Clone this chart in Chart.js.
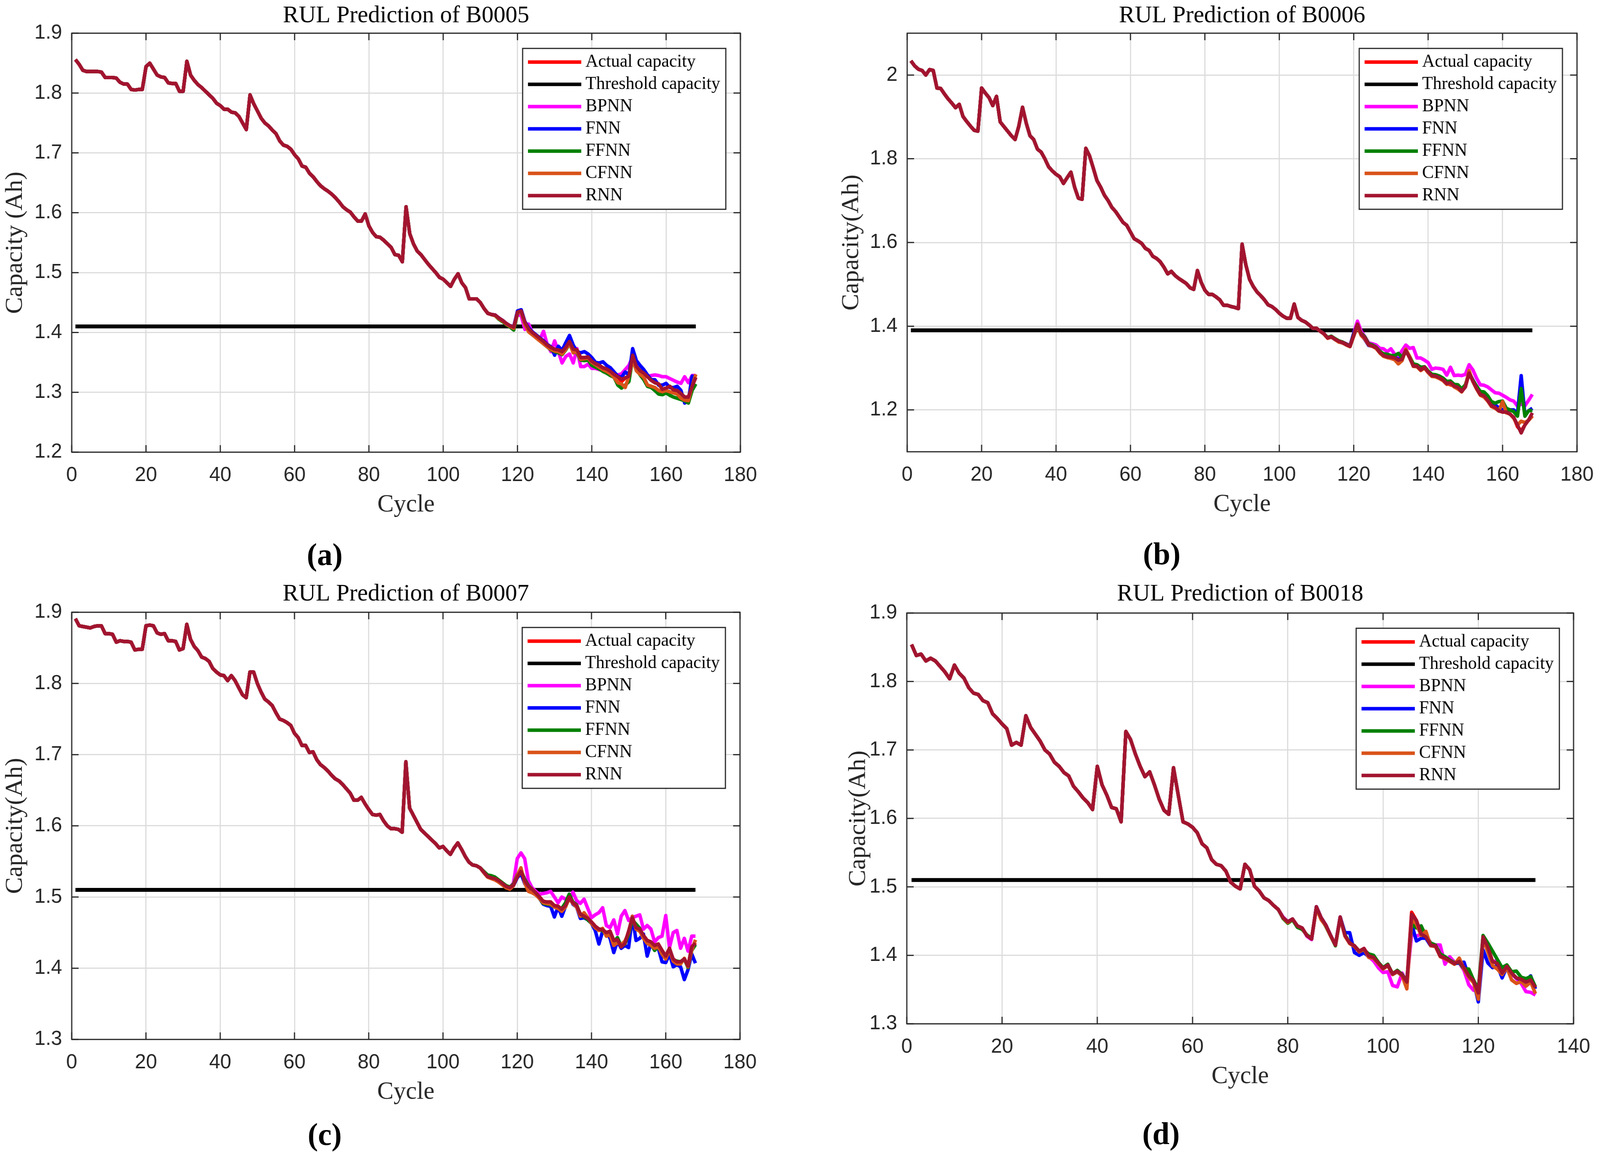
<!DOCTYPE html>
<html>
<head>
<meta charset="utf-8">
<script src="https://cdn.jsdelivr.net/npm/chart.js@4.4.1/dist/chart.umd.min.js"></script>
<style>
html,body{margin:0;padding:0;background:#fff;overflow:hidden;}
#page{width:4173px;height:2958px;position:absolute;left:0;top:0;transform-origin:0 0;background:#fff;}
canvas{position:absolute;}
.lab{position:absolute;font-family:'Liberation Serif','Times New Roman',serif;font-weight:bold;font-size:80px;color:#000;line-height:1;transform:translate(-50%,-50%);white-space:nowrap;}
</style>
</head>
<body>
<div id="page">
<canvas id="ca" width="2086" height="1479" style="left:0px;top:0px;width:2086px;height:1479px"></canvas>
<canvas id="cb" width="2087" height="1479" style="left:2086px;top:0px;width:2087px;height:1479px"></canvas>
<canvas id="cc" width="2086" height="1479" style="left:0px;top:1479px;width:2086px;height:1479px"></canvas>
<canvas id="cd" width="2087" height="1479" style="left:2086px;top:1479px;width:2087px;height:1479px"></canvas>
<div class="lab" style="left:847px;top:1420px">(a)</div>
<div class="lab" style="left:3030px;top:1418px">(b)</div>
<div class="lab" style="left:847px;top:2905px">(c)</div>
<div class="lab" style="left:3028px;top:2903px">(d)</div>
</div>
<script>
// ---------------- DATA ----------------
const seriesNames = ['Actual capacity','Threshold capacity','BPNN','FNN','FFNN','CFNN','RNN'];
const xTicks180 = [0,20,40,60,80,100,120,140,160,180];
const xTicks140 = [0,20,40,60,80,100,120,140];
const yTicksA = [1.2,1.3,1.4,1.5,1.6,1.7,1.8,1.9];
const yLabelsA = ['1.2','1.3','1.4','1.5','1.6','1.7','1.8','1.9'];
const yTicksB = [1.2,1.4,1.6,1.8,2.0];
const yLabelsB = ['1.2','1.4','1.6','1.8','2'];
const yTicksC = [1.3,1.4,1.5,1.6,1.7,1.8,1.9];
const yLabelsC = ['1.3','1.4','1.5','1.6','1.7','1.8','1.9'];
const yTicksD = [1.3,1.4,1.5,1.6,1.7,1.8,1.9];
const yLabelsD = ['1.3','1.4','1.5','1.6','1.7','1.8','1.9'];

const cyclesA = Array.from({length:168},(_,i)=>i+1);
const cyclesB = Array.from({length:168},(_,i)=>i+1);
const cyclesC = Array.from({length:168},(_,i)=>i+1);
const cyclesD = Array.from({length:132},(_,i)=>i+1);

const thresholdA = [1.41,1.41];
const thresholdB = [1.39,1.39];
const thresholdC = [1.51,1.51];
const thresholdD = [1.51,1.51];

// B0005 actual capacity (cycles 1-168)
const actualA = [
1.856,1.848,1.838,1.836,1.836,1.836,1.836,1.835,1.826,1.826,
1.826,1.825,1.818,1.815,1.815,1.806,1.805,1.806,1.806,1.844,
1.850,1.840,1.830,1.827,1.826,1.817,1.816,1.816,1.803,1.803,
1.853,1.830,1.821,1.814,1.809,1.803,1.797,1.791,1.783,1.779,
1.773,1.773,1.768,1.767,1.761,1.750,1.739,1.797,1.782,1.770,
1.758,1.750,1.745,1.738,1.732,1.720,1.713,1.711,1.706,1.697,
1.690,1.678,1.676,1.666,1.660,1.652,1.645,1.640,1.636,1.631,
1.625,1.618,1.610,1.605,1.601,1.593,1.586,1.586,1.598,1.578,
1.567,1.560,1.559,1.554,1.548,1.542,1.530,1.529,1.518,1.610,
1.565,1.548,1.536,1.530,1.522,1.514,1.507,1.500,1.492,1.489,
1.483,1.477,1.489,1.498,1.483,1.475,1.456,1.456,1.456,1.450,
1.440,1.432,1.430,1.429,1.424,1.420,1.415,1.411,1.409,1.434,
1.436,1.417,1.406,1.400,1.395,1.390,1.385,1.379,1.375,1.372,
1.371,1.368,1.375,1.385,1.372,1.371,1.358,1.358,1.359,1.352,
1.348,1.345,1.341,1.339,1.335,1.330,1.326,1.318,1.324,1.327,
1.362,1.343,1.336,1.332,1.326,1.320,1.316,1.314,1.305,1.307,
1.310,1.304,1.303,1.298,1.292,1.292,1.310,1.325];
// model predictions, cycles 111-168 (earlier cycles coincide with actual)
const bpnnA = [
1.440,1.432,1.430,1.429,1.424,1.420,1.415,1.411,1.409,1.430,
1.428,1.405,1.414,1.400,1.392,1.388,1.402,1.380,1.368,1.386,
1.368,1.349,1.360,1.364,1.349,1.373,1.343,1.343,1.347,1.340,
1.340,1.338,1.337,1.336,1.333,1.330,1.329,1.331,1.338,1.345,
1.360,1.343,1.336,1.329,1.326,1.328,1.329,1.328,1.326,1.326,
1.323,1.320,1.317,1.315,1.326,1.316,1.328,1.328];
const fnnA = [
1.440,1.432,1.430,1.429,1.424,1.420,1.415,1.411,1.410,1.436,
1.438,1.418,1.408,1.401,1.396,1.391,1.386,1.380,1.376,1.362,
1.377,1.370,1.383,1.395,1.379,1.368,1.366,1.368,1.364,1.358,
1.350,1.349,1.351,1.345,1.341,1.334,1.327,1.325,1.334,1.329,
1.373,1.353,1.345,1.338,1.329,1.321,1.321,1.312,1.312,1.315,
1.308,1.308,1.310,1.303,1.282,1.286,1.327,1.325];
const ffnnA = [
1.440,1.432,1.430,1.428,1.422,1.418,1.413,1.409,1.404,1.432,
1.435,1.415,1.404,1.398,1.392,1.387,1.381,1.376,1.371,1.368,
1.366,1.363,1.371,1.381,1.368,1.366,1.354,1.353,1.354,1.345,
1.342,1.339,1.335,1.332,1.328,1.325,1.312,1.307,1.312,1.318,
1.357,1.340,1.329,1.321,1.310,1.308,1.303,1.297,1.296,1.299,
1.295,1.292,1.290,1.288,1.286,1.282,1.303,1.314];
const cfnnA = [
1.440,1.432,1.430,1.428,1.423,1.419,1.414,1.410,1.407,1.433,
1.434,1.413,1.401,1.396,1.391,1.386,1.381,1.376,1.372,1.369,
1.368,1.364,1.372,1.382,1.366,1.368,1.355,1.356,1.357,1.350,
1.346,1.342,1.338,1.335,1.331,1.325,1.316,1.314,1.308,1.327,
1.355,1.336,1.330,1.325,1.312,1.310,1.308,1.303,1.301,1.303,
1.301,1.299,1.297,1.290,1.287,1.286,1.310,1.330];
const rnnA = [
1.440,1.432,1.430,1.429,1.424,1.420,1.415,1.411,1.409,1.434,
1.436,1.417,1.406,1.400,1.395,1.390,1.385,1.379,1.375,1.372,
1.371,1.368,1.375,1.385,1.372,1.371,1.358,1.358,1.359,1.352,
1.348,1.345,1.341,1.339,1.335,1.330,1.326,1.322,1.324,1.327,
1.362,1.343,1.336,1.332,1.326,1.320,1.316,1.314,1.305,1.307,
1.310,1.304,1.303,1.298,1.292,1.292,1.310,1.325];

// B0006 actual capacity (cycles 1-168)
const actualB = [
2.034,2.022,2.014,2.011,2.000,2.013,2.011,1.969,1.968,1.955,
1.943,1.933,1.922,1.930,1.901,1.889,1.878,1.868,1.866,1.969,
1.957,1.946,1.927,1.949,1.888,1.877,1.866,1.855,1.846,1.878,
1.923,1.885,1.855,1.846,1.823,1.816,1.800,1.781,1.771,1.763,
1.757,1.741,1.755,1.768,1.732,1.706,1.703,1.825,1.807,1.778,
1.748,1.732,1.713,1.700,1.684,1.674,1.661,1.648,1.641,1.625,
1.609,1.604,1.598,1.586,1.581,1.567,1.562,1.554,1.541,1.525,
1.531,1.521,1.514,1.508,1.502,1.492,1.488,1.533,1.505,1.486,
1.476,1.476,1.470,1.463,1.450,1.450,1.447,1.445,1.442,1.596,
1.547,1.512,1.495,1.482,1.473,1.463,1.451,1.447,1.440,1.431,
1.424,1.419,1.419,1.453,1.421,1.414,1.410,1.403,1.395,1.395,
1.388,1.382,1.372,1.375,1.369,1.364,1.361,1.356,1.352,1.378,
1.405,1.381,1.372,1.356,1.353,1.349,1.338,1.330,1.327,1.326,
1.324,1.319,1.321,1.342,1.325,1.305,1.305,1.296,1.302,1.291,
1.282,1.281,1.277,1.272,1.263,1.260,1.257,1.254,1.244,1.255,
1.288,1.269,1.252,1.237,1.234,1.223,1.210,1.206,1.198,1.195,
1.195,1.190,1.182,1.160,1.150,1.164,1.176,1.186];
const bpnnB = [
1.388,1.382,1.372,1.375,1.369,1.364,1.362,1.358,1.354,1.384,
1.412,1.388,1.375,1.360,1.358,1.355,1.347,1.346,1.339,1.346,
1.333,1.328,1.342,1.355,1.347,1.349,1.324,1.324,1.319,1.313,
1.297,1.300,1.299,1.297,1.283,1.302,1.282,1.283,1.282,1.285,
1.308,1.296,1.276,1.260,1.259,1.255,1.248,1.241,1.240,1.235,
1.230,1.224,1.221,1.209,1.214,1.210,1.223,1.237];
const fnnB = [
1.388,1.382,1.372,1.374,1.368,1.363,1.360,1.356,1.352,1.383,
1.403,1.379,1.368,1.354,1.352,1.348,1.338,1.331,1.328,1.327,
1.325,1.321,1.323,1.342,1.327,1.307,1.306,1.298,1.303,1.292,
1.283,1.283,1.279,1.274,1.266,1.268,1.260,1.258,1.250,1.258,
1.290,1.272,1.256,1.242,1.238,1.230,1.219,1.212,1.205,1.200,
1.200,1.200,1.200,1.192,1.282,1.188,1.198,1.204];
const ffnnB = [
1.388,1.382,1.373,1.376,1.370,1.365,1.362,1.357,1.353,1.380,
1.402,1.383,1.374,1.358,1.355,1.350,1.340,1.334,1.333,1.330,
1.330,1.335,1.325,1.343,1.328,1.310,1.308,1.302,1.303,1.293,
1.285,1.284,1.281,1.276,1.268,1.269,1.261,1.260,1.250,1.260,
1.287,1.271,1.257,1.244,1.243,1.234,1.220,1.216,1.220,1.221,
1.204,1.200,1.196,1.185,1.251,1.185,1.198,1.199];
const cfnnB = [
1.388,1.381,1.371,1.374,1.368,1.362,1.360,1.355,1.351,1.376,
1.400,1.378,1.369,1.355,1.352,1.347,1.336,1.328,1.325,1.323,
1.320,1.310,1.318,1.345,1.328,1.304,1.303,1.294,1.300,1.289,
1.280,1.279,1.275,1.270,1.261,1.263,1.255,1.250,1.243,1.256,
1.294,1.268,1.250,1.235,1.231,1.221,1.208,1.204,1.197,1.220,
1.193,1.190,1.180,1.164,1.173,1.170,1.175,1.185];
const rnnB = [
1.388,1.382,1.372,1.375,1.369,1.364,1.361,1.356,1.352,1.378,
1.405,1.381,1.372,1.356,1.353,1.349,1.338,1.330,1.327,1.326,
1.324,1.319,1.321,1.342,1.325,1.305,1.305,1.296,1.302,1.291,
1.282,1.281,1.277,1.272,1.263,1.265,1.257,1.254,1.244,1.255,
1.288,1.269,1.252,1.237,1.234,1.223,1.210,1.206,1.198,1.195,
1.195,1.190,1.182,1.164,1.145,1.164,1.176,1.193];

// B0007 actual capacity (cycles 1-168)
const actualC = [
1.891,1.881,1.880,1.879,1.878,1.880,1.881,1.881,1.870,1.870,
1.869,1.858,1.860,1.859,1.859,1.858,1.847,1.848,1.848,1.881,
1.882,1.881,1.871,1.869,1.870,1.860,1.860,1.859,1.847,1.849,
1.883,1.862,1.852,1.846,1.837,1.835,1.831,1.821,1.816,1.812,
1.811,1.804,1.811,1.804,1.794,1.784,1.780,1.816,1.816,1.800,
1.788,1.778,1.774,1.769,1.759,1.750,1.748,1.745,1.741,1.730,
1.724,1.713,1.713,1.703,1.704,1.693,1.686,1.682,1.677,1.671,
1.666,1.663,1.658,1.652,1.646,1.636,1.636,1.640,1.631,1.623,
1.616,1.615,1.616,1.607,1.600,1.596,1.596,1.595,1.591,1.690,
1.625,1.615,1.605,1.595,1.590,1.585,1.580,1.575,1.569,1.571,
1.565,1.560,1.569,1.576,1.567,1.557,1.549,1.545,1.544,1.541,
1.535,1.529,1.527,1.526,1.523,1.519,1.515,1.513,1.517,1.528,
1.536,1.523,1.515,1.511,1.506,1.500,1.494,1.493,1.493,1.488,
1.487,1.483,1.488,1.500,1.492,1.488,1.476,1.473,1.470,1.465,
1.459,1.455,1.454,1.450,1.452,1.439,1.440,1.430,1.435,1.452,
1.471,1.457,1.455,1.446,1.439,1.437,1.432,1.434,1.425,1.417,
1.428,1.411,1.409,1.409,1.413,1.403,1.430,1.436];
const bpnnC = [
1.535,1.529,1.527,1.526,1.523,1.519,1.515,1.513,1.520,1.554,
1.562,1.554,1.523,1.513,1.508,1.504,1.505,1.506,1.508,1.500,
1.492,1.500,1.497,1.495,1.507,1.495,1.491,1.497,1.484,1.471,
1.475,1.478,1.485,1.460,1.457,1.468,1.448,1.473,1.481,1.467,
1.471,1.473,1.475,1.455,1.460,1.455,1.437,1.443,1.445,1.474,
1.429,1.450,1.453,1.428,1.442,1.424,1.445,1.445];
const fnnC = [
1.535,1.529,1.527,1.526,1.523,1.519,1.515,1.512,1.516,1.527,
1.533,1.519,1.512,1.509,1.504,1.498,1.490,1.488,1.487,1.472,
1.486,1.473,1.487,1.501,1.490,1.486,1.470,1.471,1.468,1.463,
1.453,1.434,1.452,1.450,1.442,1.422,1.438,1.428,1.432,1.429,
1.473,1.439,1.442,1.448,1.417,1.435,1.430,1.428,1.409,1.408,
1.420,1.402,1.405,1.402,1.384,1.398,1.420,1.407];
const ffnnC = [
1.536,1.531,1.530,1.528,1.524,1.520,1.516,1.514,1.518,1.531,
1.538,1.525,1.516,1.511,1.505,1.498,1.491,1.490,1.489,1.486,
1.485,1.484,1.492,1.504,1.493,1.489,1.475,1.472,1.468,1.463,
1.457,1.454,1.453,1.447,1.448,1.437,1.443,1.431,1.434,1.448,
1.468,1.462,1.456,1.442,1.435,1.434,1.425,1.431,1.420,1.414,
1.425,1.412,1.410,1.409,1.413,1.401,1.425,1.433];
const cfnnC = [
1.534,1.528,1.526,1.524,1.521,1.517,1.513,1.511,1.516,1.530,
1.541,1.520,1.508,1.506,1.503,1.498,1.492,1.491,1.490,1.486,
1.484,1.480,1.486,1.498,1.491,1.486,1.473,1.478,1.471,1.463,
1.457,1.453,1.456,1.445,1.447,1.432,1.436,1.433,1.438,1.450,
1.473,1.455,1.452,1.442,1.435,1.432,1.428,1.430,1.420,1.413,
1.426,1.410,1.406,1.406,1.414,1.402,1.425,1.440];
const rnnC = [
1.535,1.529,1.527,1.526,1.523,1.519,1.515,1.513,1.517,1.528,
1.536,1.523,1.515,1.511,1.506,1.500,1.494,1.493,1.493,1.488,
1.487,1.483,1.488,1.500,1.492,1.488,1.476,1.473,1.470,1.465,
1.459,1.455,1.454,1.450,1.452,1.439,1.440,1.430,1.435,1.452,
1.471,1.457,1.455,1.446,1.439,1.437,1.432,1.434,1.425,1.417,
1.428,1.413,1.409,1.409,1.413,1.403,1.430,1.435];

// B0018 actual capacity (cycles 1-132)
const actualD = [
1.854,1.838,1.840,1.830,1.834,1.830,1.822,1.814,1.804,1.824,
1.812,1.805,1.791,1.783,1.781,1.772,1.769,1.753,1.746,1.738,
1.731,1.707,1.711,1.707,1.750,1.733,1.723,1.713,1.700,1.694,
1.682,1.676,1.667,1.662,1.647,1.639,1.630,1.623,1.613,1.676,
1.649,1.634,1.616,1.614,1.595,1.727,1.715,1.694,1.676,1.661,
1.668,1.649,1.628,1.612,1.606,1.674,1.634,1.595,1.592,1.587,
1.579,1.563,1.557,1.540,1.533,1.531,1.523,1.507,1.501,1.497,
1.533,1.525,1.501,1.494,1.484,1.480,1.473,1.467,1.455,1.449,
1.453,1.443,1.440,1.429,1.424,1.471,1.455,1.444,1.429,1.415,
1.456,1.429,1.418,1.414,1.406,1.410,1.399,1.397,1.389,1.381,
1.386,1.373,1.377,1.371,1.361,1.463,1.451,1.431,1.427,1.415,
1.414,1.399,1.396,1.392,1.388,1.391,1.382,1.370,1.363,1.345,
1.427,1.412,1.391,1.388,1.374,1.384,1.374,1.367,1.365,1.361,
1.364,1.353];
// model predictions, cycles 79-132
const bpnnD = [
1.456,1.449,1.453,1.443,1.440,1.428,1.423,1.471,1.455,1.444,1.429,1.415,
1.456,1.429,1.418,1.413,1.405,1.410,1.398,1.392,1.382,1.375,
1.376,1.356,1.354,1.374,1.361,1.431,1.428,1.431,1.430,1.418,
1.415,1.415,1.387,1.398,1.390,1.389,1.378,1.357,1.349,1.350,
1.420,1.410,1.390,1.393,1.373,1.383,1.373,1.366,1.359,1.347,
1.346,1.342];
const fnnD = [
1.455,1.449,1.453,1.443,1.440,1.429,1.424,1.471,1.455,1.444,1.429,1.415,
1.456,1.433,1.433,1.404,1.400,1.404,1.398,1.397,1.389,1.381,
1.386,1.372,1.376,1.370,1.360,1.446,1.421,1.425,1.425,1.414,
1.413,1.399,1.395,1.392,1.388,1.389,1.390,1.369,1.362,1.332,
1.408,1.389,1.382,1.385,1.367,1.383,1.374,1.367,1.364,1.363,
1.370,1.351];
const ffnnD = [
1.454,1.447,1.452,1.441,1.438,1.430,1.425,1.470,1.454,1.442,1.428,1.414,
1.455,1.430,1.418,1.414,1.406,1.408,1.402,1.400,1.390,1.382,
1.387,1.373,1.378,1.372,1.362,1.446,1.440,1.443,1.428,1.418,
1.415,1.402,1.398,1.393,1.389,1.390,1.380,1.380,1.364,1.350,
1.429,1.418,1.406,1.394,1.382,1.386,1.376,1.377,1.368,1.366,
1.369,1.354];
const cfnnD = [
1.455,1.448,1.453,1.443,1.440,1.429,1.424,1.469,1.452,1.443,1.428,1.415,
1.454,1.428,1.417,1.413,1.405,1.409,1.397,1.396,1.388,1.380,
1.385,1.372,1.376,1.370,1.351,1.452,1.446,1.429,1.435,1.414,
1.413,1.398,1.395,1.391,1.387,1.396,1.380,1.368,1.360,1.336,
1.425,1.405,1.385,1.380,1.372,1.382,1.364,1.359,1.362,1.355,
1.361,1.344];
const rnnD = [
1.455,1.449,1.453,1.443,1.440,1.429,1.424,1.471,1.455,1.444,1.429,1.415,
1.456,1.429,1.418,1.414,1.406,1.410,1.399,1.397,1.389,1.381,
1.386,1.373,1.377,1.371,1.361,1.460,1.451,1.431,1.427,1.415,
1.414,1.399,1.396,1.392,1.388,1.391,1.382,1.370,1.363,1.345,
1.427,1.412,1.391,1.388,1.374,1.384,1.374,1.367,1.365,1.361,
1.364,1.353];

// ---------------- RENDERING ----------------
const SERIF = "'Liberation Serif', 'Times New Roman', serif";
const SANS = "'Liberation Sans', Arial, sans-serif";
const COLORS = ['#ff0000','#000000','#ff00ff','#0000ff','#008000','#d95319','#a2142f'];
const AXIS = '#262626';

// fit the 4173x2958 design into the real viewport
(function fitPage(){
  const vw = document.documentElement.clientWidth || window.innerWidth;
  const vh = document.documentElement.clientHeight || window.innerHeight;
  document.getElementById('page').style.transform = 'scale(' + (vw / 4173) + ',' + (vh / 2958) + ')';
})();

const framePlugin = {
  id: 'matlabFrame',
  afterDraw(chart, args, o) {
    const {ctx, chartArea: ca, scales} = chart;
    ctx.save();
    ctx.strokeStyle = AXIS;
    ctx.lineWidth = 3;
    ctx.beginPath();
    scales.x.ticks.forEach(t => {
      const px = scales.x.getPixelForValue(t.value);
      ctx.moveTo(px, ca.bottom); ctx.lineTo(px, ca.bottom - 18);
      ctx.moveTo(px, ca.top); ctx.lineTo(px, ca.top + 18);
    });
    scales.y.ticks.forEach(t => {
      const py = scales.y.getPixelForValue(t.value);
      ctx.moveTo(ca.left, py); ctx.lineTo(ca.left + 18, py);
      ctx.moveTo(ca.right, py); ctx.lineTo(ca.right - 18, py);
    });
    ctx.stroke();
    ctx.strokeRect(ca.left, ca.top, ca.right - ca.left, ca.bottom - ca.top);
    const lx = ca.right - o.right - o.w, ly = ca.top + o.top;
    ctx.fillStyle = '#ffffff';
    ctx.fillRect(lx, ly, o.w, o.h);
    ctx.strokeRect(lx, ly, o.w, o.h);
    ctx.font = '46px ' + SERIF;
    ctx.textBaseline = 'middle';
    ctx.textAlign = 'left';
    chart.data.datasets.forEach((ds, i) => {
      const cy = ly + o.first + i * o.pitch;
      ctx.strokeStyle = ds.borderColor;
      ctx.lineWidth = 9;
      ctx.lineCap = 'butt';
      ctx.beginPath(); ctx.moveTo(lx + 14, cy); ctx.lineTo(lx + 153, cy); ctx.stroke();
      ctx.fillStyle = '#000';
      ctx.fillText(ds.label, lx + 164, cy);
    });
    ctx.restore();
  }
};

function makeChart(id, cfg, g) {
  const n = cfg.actual.length;
  const withTail = tail => cfg.actual.slice(0, n - tail.length).concat(tail);
  const xy = vals => vals.map((v, i) => ({x: cfg.cycles[i], y: v}));
  const thr = [{x: cfg.cycles[0], y: cfg.threshold[0]}, {x: cfg.cycles[n - 1], y: cfg.threshold[1]}];
  const mk = (idx, data, order, w) => ({
    label: seriesNames[idx], data, borderColor: COLORS[idx], backgroundColor: COLORS[idx],
    borderWidth: w, pointRadius: 0, pointHoverRadius: 0, fill: false, tension: 0,
    order, borderJoinStyle: 'round', borderCapStyle: 'butt'
  });
  const datasets = [
    mk(0, xy(cfg.actual), 7, 9),
    mk(1, thr, 6, 10),
    mk(2, xy(withTail(cfg.bpnn)), 5, 9),
    mk(3, xy(withTail(cfg.fnn)), 4, 9),
    mk(4, xy(withTail(cfg.ffnn)), 3, 9),
    mk(5, xy(withTail(cfg.cfnn)), 2, 9),
    mk(6, xy(withTail(cfg.rnn)), 1, 9)
  ];
  new Chart(document.getElementById(id), {
    type: 'line',
    data: {datasets},
    options: {
      responsive: false, animation: false, devicePixelRatio: 1,
      events: [],
      layout: {padding: {left: 0, right: g.padRight, top: 0, bottom: g.padBottom}},
      plugins: {
        legend: {display: false},
        tooltip: {enabled: false},
        title: {display: true, text: cfg.title, color: '#000', fullSize: false,
          font: {family: SERIF, size: 62, weight: 'normal', lineHeight: 1},
          padding: {top: g.tTop, bottom: g.tBottom}},
        matlabFrame: {w: 530, h: 412, right: g.legRight, top: 39, first: 35, pitch: 57}
      },
      scales: {
        x: {
          type: 'linear', min: 0, max: cfg.xMax,
          afterBuildTicks: s => { s.ticks = cfg.xTicks.map(v => ({value: v})); },
          afterFit: s => { s.height = g.xAxisH; s.paddingLeft = 0; s.paddingRight = 0; },
          ticks: {autoSkip: false, maxRotation: 0, minRotation: 0, padding: 28.3, color: AXIS,
            font: {family: SANS, size: 52}, callback: (v, i) => String(cfg.xTicks[i])},
          grid: {color: '#dcdcdc', lineWidth: 3, drawTicks: false},
          border: {display: false},
          title: {display: true, text: 'Cycle', color: AXIS, font: {family: SERIF, size: 64},
            padding: {top: 0, bottom: 0}}
        },
        y: {
          type: 'linear', min: cfg.yMin, max: cfg.yMax,
          afterBuildTicks: s => { s.ticks = cfg.yTicks.map(v => ({value: v})); },
          afterFit: s => { s.width = g.yAxisW; s.paddingTop = 0; s.paddingBottom = 0; },
          ticks: {autoSkip: false, padding: 25, color: AXIS,
            font: {family: SANS, size: 52}, callback: (v, i) => cfg.yLabels[i]},
          grid: {color: '#dcdcdc', lineWidth: 3, drawTicks: false},
          border: {display: false},
          title: {display: true, text: cfg.ylabel, color: AXIS, font: {family: SERIF, size: 64},
            padding: {top: g.yTitlePad, bottom: 0}}
        }
      }
    },
    plugins: [framePlugin]
  });
}

makeChart('ca', {title: 'RUL Prediction of B0005', ylabel: 'Capacity (Ah)', cycles: cyclesA,
  actual: actualA, threshold: thresholdA, bpnn: bpnnA, fnn: fnnA, ffnn: ffnnA, cfnn: cfnnA, rnn: rnnA,
  xMax: 180, xTicks: xTicks180, yMin: 1.2, yMax: 1.9, yTicks: yTicksA, yLabels: yLabelsA},
  {yAxisW: 187, padRight: 155, padBottom: 147, xAxisH: 174, tTop: 10, tBottom: 13, yTitlePad: 1.6, legRight: 38});

makeChart('cb', {title: 'RUL Prediction of B0006', ylabel: 'Capacity(Ah)', cycles: cyclesB,
  actual: actualB, threshold: thresholdB, bpnn: bpnnB, fnn: fnnB, ffnn: ffnnB, cfnn: cfnnB, rnn: rnnB,
  xMax: 180, xTicks: xTicks180, yMin: 1.1, yMax: 2.1, yTicks: yTicksB, yLabels: yLabelsB},
  {yAxisW: 280, padRight: 60, padBottom: 148, xAxisH: 174, tTop: 10, tBottom: 13, yTitlePad: 96.6, legRight: 38});

makeChart('cc', {title: 'RUL Prediction of B0007', ylabel: 'Capacity(Ah)', cycles: cyclesC,
  actual: actualC, threshold: thresholdC, bpnn: bpnnC, fnn: fnnC, ffnn: ffnnC, cfnn: cfnnC, rnn: rnnC,
  xMax: 180, xTicks: xTicks180, yMin: 1.3, yMax: 1.9, yTicks: yTicksC, yLabels: yLabelsC},
  {yAxisW: 187, padRight: 156, padBottom: 122, xAxisH: 174, tTop: 12, tBottom: 15, yTitlePad: 1.6, legRight: 38});

makeChart('cd', {title: 'RUL Prediction of B0018', ylabel: 'Capacity(Ah)', cycles: cyclesD,
  actual: actualD, threshold: thresholdD, bpnn: bpnnD, fnn: fnnD, ffnn: ffnnD, cfnn: cfnnD, rnn: rnnD,
  xMax: 140, xTicks: xTicks140, yMin: 1.3, yMax: 1.9, yTicks: yTicksD, yLabels: yLabelsD},
  {yAxisW: 279, padRight: 69, padBottom: 162, xAxisH: 174, tTop: 12, tBottom: 17, yTitlePad: 114.6, legRight: 37});
</script>
</body>
</html>
